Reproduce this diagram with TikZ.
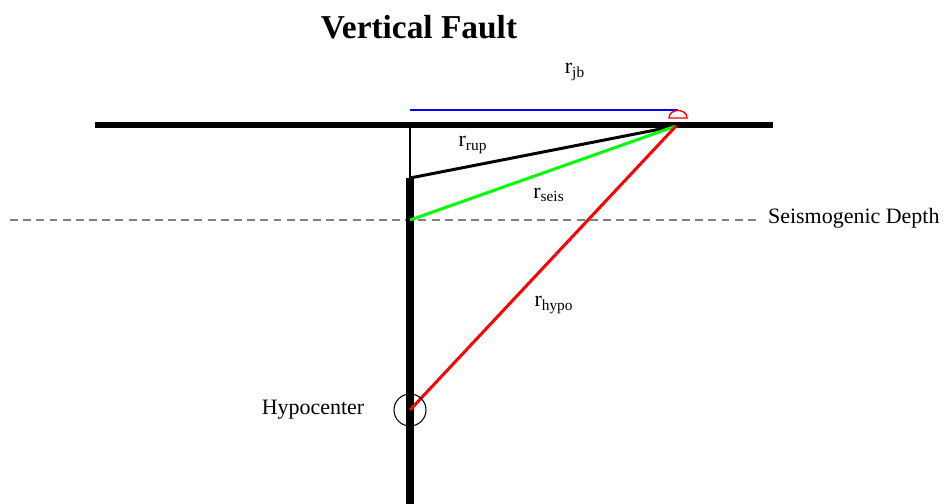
\documentclass[tikz,border=0pt]{standalone}
\usepackage{fontspec}
\setmainfont{Liberation Serif}
\usetikzlibrary{positioning}

\begin{document}
\begin{tikzpicture}[x=0.02cm, y=-0.02cm,
        surface/.style={draw=black, line width=3.4pt},
        fault/.style={draw=black, line width=4pt},
        path/.style={line width=1.7pt},
        label/.style={font=\fontsize{12.5}{14}\selectfont, inner sep=1pt}]
        \useasboundingbox (0,0) rectangle (948,504);

        % points
        \coordinate (site) at (676,126);
        \coordinate (top) at (410,178);
        \coordinate (seis) at (410,220);
        \coordinate (hypo) at (410,410);

        \node [font=\fontsize{19}{22}\bfseries\selectfont] (title) at (419,27) {Vertical Fault};

        \draw [surface] (95,125) -- (773,125);
        \draw [gray, line width=1.3pt, dash pattern=on 4.5pt off 3pt] (10,220) -- (760,220);
        \node [label, anchor=west] (depth) at (766,218) {Seismogenic Depth};

        \draw [line width=0.6pt] (410,125) -- (top);
        \draw [fault] (top) -- (410,504);
        \draw [blue, line width=0.6pt] (410,110) -- (678,110);
        \draw [red, line width=0.8pt] (669,118) .. controls (669,108) and (687,108) .. (687,118) -- cycle;

        \draw [path, black] (top) -- (site);
        \draw [path, green] (seis) -- (site);
        \draw [path, red] (hypo) -- (site);

        \draw [line width=0.6pt] (hypo) circle[radius=16];
        \node [label] (hyponame) at (313,410) {Hypocenter};

        \node [label] (rjb) at (575,72) {r\textsubscript{jb}};
        \node [label] (rrup) at (473,145) {r\textsubscript{rup}};
        \node [label] (rseis) at (549,195) {r\textsubscript{seis}};
        \node [label] (rhypo) at (554,305) {r\textsubscript{hypo}};
    \end{tikzpicture}
\end{document}
